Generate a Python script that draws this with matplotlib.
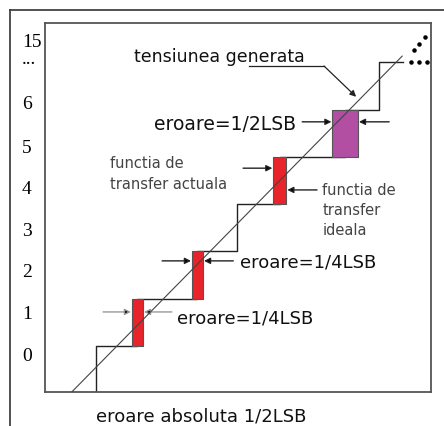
import numpy as np
import matplotlib
matplotlib.use('Agg')
import matplotlib.pyplot as plt
from matplotlib.lines import Line2D

# Staircase (actual transfer function), in LSB units
step_x = [0, 0, 0.89, 2.18, 3.03, 3.95, 5.35, 6.09, 6.60]
step_y = [-1.2, 0, 1, 2, 3, 4, 5, 6, 6]

# Error rectangles: (left, right, lower level)
err_left = [0.77, 2.06, 3.81, 5.08]
err_right = [1.01, 2.30, 4.09, 5.63]
err_level = [0, 1, 3, 4]
err_color = ['#e8242a', '#e8242a', '#e8242a', '#b24fa3']

# Ideal transfer line y = x - offset
ideal_x = np.array([-0.52, 6.58])
ideal_offset = 0.45

# Continuation dots
dots_hx = [6.77, 6.95, 7.12]
dots_hy = [6.0, 6.0, 6.0]
dots_dx = [6.84, 6.95, 7.07]
dots_dy = [6.26, 6.39, 6.54]

# Y axis labels
ytick_pos = [-0.15, 0.72, 1.61, 2.49, 3.38, 4.25, 5.16, 6.13, 6.49]
ytick_lab = ['0', '1', '2', '3', '4', '5', '6', '...', '15']

fig = plt.figure(figsize=(4.44, 4.27), dpi=100)
ax = fig.add_axes([0.1014, 0.0796, 0.8694, 0.8642])
ax.set_xlim(-1.097, 7.20)
ax.set_ylim(-0.973, 6.83)

# outer frame
fig.add_artist(Line2D([0.0225, 0.0225], [0, 0.974], color='#333333', lw=1.2))
fig.add_artist(Line2D([0.0225, 1.0], [0.974, 0.974], color='#333333', lw=1.2))

for s in ax.spines.values():
    s.set_color('#555555')
    s.set_linewidth(1.3)

ax.set_xticks([])
ax.set_yticks(ytick_pos, ytick_lab)
ax.tick_params(axis='y', length=0, pad=16.5)
for lab in ax.get_yticklabels():
    lab.set_ha('left')
    lab.set_fontfamily('Liberation Serif')
    lab.set_fontsize(14)

# staircase
ax.step(step_x, step_y, where='post', color='#222222', lw=1.0, zorder=2)

# ideal line
ax.plot(ideal_x, ideal_x - ideal_offset, color='#444444', lw=0.8, zorder=4)

# error rectangles
for l, r, lv, c in zip(err_left, err_right, err_level, err_color):
    ax.fill_between([l, r], lv, lv + 1, facecolor=c, edgecolor='#555555',
                    lw=0.8, zorder=3)

ax.scatter(dots_hx, dots_hy, s=5, color='black', zorder=5, clip_on=False)
ax.scatter(dots_dx, dots_dy, s=5, color='black', zorder=5, clip_on=False)

# arrows pointing at the error boxes
arrows = [
    ((0.15, 0.72), (0.75, 0.72), '#999999'),
    ((1.63, 0.72), (1.03, 0.72), '#999999'),
    ((1.42, 1.80), (2.04, 1.80), '#222222'),
    ((2.95, 1.80), (2.32, 1.80), '#222222'),
    ((3.16, 3.76), (3.79, 3.76), '#222222'),
    ((4.75, 3.30), (4.11, 3.30), '#222222'),
    ((4.43, 4.74), (5.06, 4.74), '#222222'),
    ((6.30, 4.74), (5.65, 4.74), '#222222'),
]
for tail, head, c in arrows:
    ax.annotate('', xy=head, xytext=tail,
                arrowprops=dict(arrowstyle='-|>', color=c, lw=1.0,
                                mutation_scale=9, shrinkA=0, shrinkB=0,
                                fc='black', ec=c))

# pointer for "tensiunea generata"
ax.plot([3.29, 4.90], [5.92, 5.92], color='#222222', lw=0.9)
ax.annotate('', xy=(5.59, 5.27), xytext=(4.90, 5.92),
            arrowprops=dict(arrowstyle='-|>', color='#222222', lw=0.9,
                            mutation_scale=9, shrinkA=0, shrinkB=0))

font = 'DejaVu Sans'
ax.text(2.65, 6.13, 'tensiunea generata', ha='center', va='center',
        fontsize=12.5, family=font, color='#111111')
ax.text(4.30, 4.71, 'eroare=1/2LSB', ha='right', va='center',
        fontsize=13.5, family=font, color='#111111')
ax.text(3.10, 1.78, 'eroare=1/4LSB', ha='left', va='center',
        fontsize=13, family=font, color='#111111')
ax.text(1.74, 0.61, 'eroare=1/4LSB', ha='left', va='center',
        fontsize=13, family=font, color='#111111')
ax.text(0.29, 3.66, 'functia de\ntransfer actuala', ha='left', va='center',
        fontsize=10.5, family=font, color='#444444', linespacing=1.45)
ax.text(4.86, 2.88, 'functia de\ntransfer\nideala', ha='left', va='center',
        fontsize=10.5, family=font, color='#444444', linespacing=1.4)
ax.text(2.26, -1.48, 'eroare absoluta 1/2LSB', ha='center', va='center',
        fontsize=13, family=font, color='#111111', clip_on=False)

fig.savefig('out.png', dpi=100)
